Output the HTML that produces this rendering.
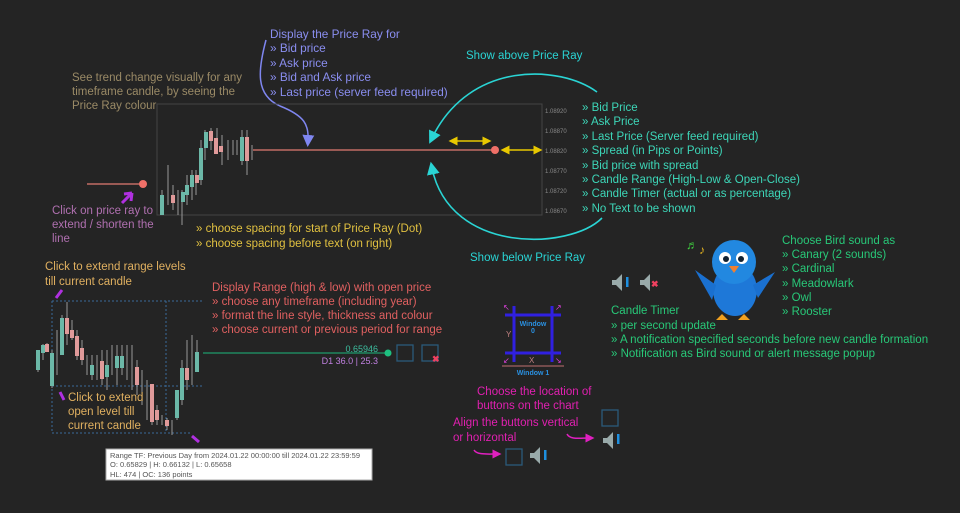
<!DOCTYPE html>
<html><head><meta charset="utf-8"><style>
html,body{margin:0;padding:0;background:#242424;}
svg{display:block;font-family:"Liberation Sans",sans-serif;}
</style></head><body>
<svg width="960" height="513" viewBox="0 0 960 513" xmlns="http://www.w3.org/2000/svg">
<rect width="960" height="513" fill="#242424"/>
<defs>
<marker id="ab" markerWidth="8" markerHeight="8" refX="4" refY="4" orient="auto"><path d="M0,0 L8,4 L0,8 z" fill="#7f86f0"/></marker>
<marker id="ac" markerWidth="8" markerHeight="8" refX="4" refY="4" orient="auto"><path d="M0,0 L8,4 L0,8 z" fill="#2ad4d4"/></marker>
<marker id="ay" markerWidth="6" markerHeight="6" refX="3" refY="3" orient="auto-start-reverse"><path d="M0,0 L6,3 L0,6 z" fill="#e8c800"/></marker>
<marker id="am" markerWidth="6" markerHeight="6" refX="3" refY="3" orient="auto"><path d="M0,0 L6,3 L0,6 z" fill="#e020c0"/></marker>
</defs>

<g fill="#8a8ef0" font-size="11.8">
<text x="270" y="38">Display the Price Ray for</text>
<text x="270" y="52">» Bid price</text>
<text x="270" y="67">» Ask price</text>
<text x="270" y="81">» Bid and Ask price</text>
<text x="270" y="96">» Last price (server feed required)</text>
</g>
<path d="M266,40 C258,70 255,95 280,106 C305,116 309,125 308,141" stroke="#7f86f0" stroke-width="1.5" fill="none" marker-end="url(#ab)"/>

<g fill="#9a8a66" font-size="11.5">
<text x="72" y="81">See trend change visually for any</text>
<text x="72" y="95">timeframe candle, by seeing the</text>
<text x="72" y="109">Price Ray colour</text>
</g>

<rect x="157" y="104" width="385" height="111" fill="none" stroke="#444" stroke-width="1"/>
<g fill="#888" font-size="6">
<text x="545" y="113">1.08920</text><text x="545" y="133">1.08870</text><text x="545" y="153">1.08820</text>
<text x="545" y="173">1.08770</text><text x="545" y="193">1.08720</text><text x="545" y="213">1.08670</text>
</g>
<g stroke-width="1">
<path d="M162,190 V215 M168,165 V205 M173,185 V210 M178,190 V215 M182,190 V225 M187,175 V205 M192,170 V200 M196,170 V195 M201,140 V185 M205,130 V160 M211,128 V150 M217,128 V150 M222,135 V165 M228,140 V160 M233,140 V155 M237,140 V155 M242,130 V165 M247,130 V175 M252,145 V160" stroke="#999"/>
<rect x="160" y="195" width="4" height="20" fill="#6cb8a8"/>
<rect x="171" y="195" width="4" height="8" fill="#e09a9a"/>
<rect x="181" y="192" width="4" height="10" fill="#6cb8a8"/>
<rect x="185" y="185" width="4" height="10" fill="#6cb8a8"/>
<rect x="190" y="175" width="4" height="12" fill="#6cb8a8"/>
<rect x="195" y="175" width="4" height="8" fill="#e09a9a"/>
<rect x="199" y="148" width="4" height="32" fill="#6cb8a8"/>
<rect x="204" y="132" width="4" height="16" fill="#6cb8a8"/>
<rect x="209" y="131" width="4" height="10" fill="#e09a9a"/>
<rect x="214" y="138" width="4" height="16" fill="#e09a9a"/>
<rect x="219" y="146" width="4" height="6" fill="#e09a9a"/>
<rect x="240" y="137" width="4" height="24" fill="#6cb8a8"/>
<rect x="245" y="137" width="4" height="24" fill="#e09a9a"/>
</g>
<line x1="253" y1="150" x2="495" y2="150" stroke="#e07a70" stroke-width="1.3"/>
<circle cx="495" cy="150" r="4" fill="#f07068"/>
<line x1="453" y1="141" x2="487" y2="141" stroke="#e8c800" stroke-width="1.5" marker-start="url(#ay)" marker-end="url(#ay)"/>
<line x1="505" y1="150" x2="538" y2="150" stroke="#e8c800" stroke-width="1.5" marker-start="url(#ay)" marker-end="url(#ay)"/>

<path d="M597,92 C560,65 470,60 432,138" stroke="#2ad4d4" stroke-width="1.6" fill="none" marker-end="url(#ac)"/>
<path d="M602,218 C570,250 450,255 432,168" stroke="#2ad4d4" stroke-width="1.6" fill="none" marker-end="url(#ac)"/>
<text x="466" y="59" fill="#2ad4d4" font-size="11.5">Show above Price Ray</text>
<text x="470" y="261" fill="#2ad4d4" font-size="11.5">Show below Price Ray</text>

<g fill="#3dd6b8" font-size="11.5">
<text x="582" y="111">» Bid Price</text>
<text x="582" y="125">» Ask Price</text>
<text x="582" y="140">» Last Price (Server feed required)</text>
<text x="582" y="154">» Spread (in Pips or Points)</text>
<text x="582" y="169">» Bid price with spread</text>
<text x="582" y="183">» Candle Range (High-Low &amp; Open-Close)</text>
<text x="582" y="197">» Candle Timer (actual or as percentage)</text>
<text x="582" y="212">» No Text to be shown</text>
</g>

<g fill="#e0c040" font-size="11.5">
<text x="196" y="232">» choose spacing for start of Price Ray (Dot)</text>
<text x="196" y="247">» choose spacing before text (on right)</text>
</g>
<line x1="87" y1="184" x2="141" y2="184" stroke="#e07a70" stroke-width="1.2"/>
<circle cx="143" cy="184" r="4" fill="#f07068"/>
<path d="M122,203 L132,193 M132,193 L124,194 M132,193 L131,201" stroke="#b030e0" stroke-width="3" fill="none"/>
<g fill="#b070b0" font-size="11.5">
<text x="52" y="214">Click on price ray to</text>
<text x="52" y="228">extend / shorten the</text>
<text x="52" y="242">line</text>
</g>

<g fill="#e0b060" font-size="11.5">
<text x="45" y="270">Click to extend range levels</text>
<text x="45" y="285">till current candle</text>
</g>
<path d="M62,290 L56,298" stroke="#b030e0" stroke-width="3"/>
<g stroke="#3a6a9a" stroke-dasharray="2,2" fill="none">
<line x1="52" y1="301" x2="202" y2="301"/>
<line x1="52" y1="386" x2="202" y2="386"/>
<line x1="52" y1="433" x2="192" y2="433"/>
<line x1="52" y1="301" x2="52" y2="433"/>
<line x1="166" y1="301" x2="166" y2="433"/>
</g>
<g stroke="#999">
<path d="M38,350 V372 M43,344 V360 M47,343 V352 M52,350 V388 M57,330 V375 M62,315 V355 M67,302 V345 M72,320 V340 M77,330 V360 M82,340 V365 M87,355 V375 M92,355 V380 M97,355 V380 M102,350 V385 M107,350 V390 M112,345 V375 M117,345 V385 M122,345 V375 M127,345 V380 M132,345 V390 M137,360 V395 M142,370 V405 M147,380 V420 M152,400 V425 M157,405 V425 M162,415 V425 M167,418 V430 M172,420 V435 M177,390 V420 M182,360 V405 M187,340 V390 M192,335 V385 M197,340 V360"/>
</g>
<g>
<rect x="36" y="350" width="4" height="20" fill="#6cb8a8"/>
<rect x="41" y="345" width="4" height="8" fill="#6cb8a8"/>
<rect x="45" y="344" width="4" height="8" fill="#e09a9a"/>
<rect x="50" y="353" width="4" height="33" fill="#6cb8a8"/>
<rect x="60" y="318" width="4" height="37" fill="#6cb8a8"/>
<rect x="65" y="318" width="4" height="16" fill="#e09a9a"/>
<rect x="70" y="330" width="4" height="8" fill="#e09a9a"/>
<rect x="75" y="336" width="4" height="20" fill="#e09a9a"/>
<rect x="80" y="348" width="4" height="12" fill="#e09a9a"/>
<rect x="90" y="365" width="4" height="10" fill="#6cb8a8"/>
<rect x="100" y="361" width="4" height="18" fill="#e09a9a"/>
<rect x="105" y="365" width="4" height="12" fill="#6cb8a8"/>
<rect x="115" y="356" width="4" height="12" fill="#6cb8a8"/>
<rect x="120" y="356" width="4" height="12" fill="#6cb8a8"/>
<rect x="135" y="367" width="4" height="18" fill="#e09a9a"/>
<rect x="150" y="384" width="4" height="38" fill="#e09a9a"/>
<rect x="155" y="410" width="4" height="10" fill="#e09a9a"/>
<rect x="165" y="420" width="4" height="6" fill="#e09a9a"/>
<rect x="175" y="390" width="4" height="28" fill="#6cb8a8"/>
<rect x="180" y="368" width="4" height="32" fill="#6cb8a8"/>
<rect x="185" y="368" width="4" height="12" fill="#e09a9a"/>
<rect x="195" y="352" width="4" height="20" fill="#6cb8a8"/>
</g>
<line x1="203" y1="353" x2="386" y2="353" stroke="#1e9a6a" stroke-width="1.3"/>
<circle cx="388" cy="353" r="3.5" fill="#1ec080"/>
<text x="378" y="352" fill="#3dbfa0" font-size="9" text-anchor="end">0.65946</text>
<text x="378" y="364" fill="#c080e0" font-size="9" text-anchor="end">D1  36.0 | 25.3</text>
<rect x="397" y="345" width="16" height="16" fill="none" stroke="#2a5a7a" stroke-width="1.3"/>
<rect x="422" y="345" width="16" height="16" fill="none" stroke="#2a5a7a" stroke-width="1.3"/>
<text x="432" y="362" fill="#f04060" font-size="9" font-weight="bold">✖</text>
<g fill="#e06060" font-size="11.5">
<text x="212" y="291">Display Range (high &amp; low) with open price</text>
<text x="212" y="305">» choose any timeframe (including year)</text>
<text x="212" y="319">» format the line style, thickness and colour</text>
<text x="212" y="333">» choose current or previous period for range</text>
</g>
<g fill="#e0b060" font-size="11.5">
<text x="68" y="401">Click to extend</text>
<text x="68" y="415">open level till</text>
<text x="68" y="429">current candle</text>
</g>
<path d="M60,392 L64,400" stroke="#b030e0" stroke-width="3"/>
<path d="M192,436 L199,442" stroke="#b030e0" stroke-width="3"/>
<rect x="106" y="449" width="266" height="31" fill="#fff" stroke="#aaa"/>
<g fill="#555" font-size="7.5">
<text x="110" y="458">Range TF: Previous Day from 2024.01.22 00:00:00 till 2024.01.22 23:59:59</text>
<text x="110" y="467">O: 0.65829 | H: 0.66132 | L: 0.65658</text>
<text x="110" y="477">HL: 474 | OC: 136 points</text>
</g>

<g fill="#9aa">
<path d="M612,280 h4 l6,-6 v17 l-6,-6 h-4z"/>
<rect x="626" y="277" width="2.5" height="10" fill="#1e90e0"/>
<path d="M640,280 h4 l6,-6 v17 l-6,-6 h-4z"/>
</g>
<text x="651" y="287" fill="#f04060" font-size="9" font-weight="bold">✖</text>

<g stroke="#3020e0" stroke-width="3" fill="none">
<rect x="514" y="315" width="38" height="38"/>
<line x1="505" y1="315" x2="561" y2="315"/><line x1="505" y1="353" x2="561" y2="353"/>
<line x1="514" y1="306" x2="514" y2="362"/><line x1="552" y1="306" x2="552" y2="362"/>
</g>
<line x1="502" y1="366" x2="564" y2="366" stroke="#a06060" stroke-width="1.2"/>
<g fill="#e040e0" font-size="8"><text x="503" y="310">↖</text><text x="555" y="310">↗</text><text x="503" y="363">↙</text><text x="555" y="363">↘</text></g>
<text x="533" y="326" fill="#2a90e0" font-size="7" font-weight="bold" text-anchor="middle">Window</text>
<text x="533" y="333" fill="#2a90e0" font-size="7" font-weight="bold" text-anchor="middle">0</text>
<text x="506" y="337" fill="#c08080" font-size="8">Y</text>
<text x="529" y="363" fill="#c08080" font-size="8">X</text>
<text x="533" y="375" fill="#2a90e0" font-size="7" font-weight="bold" text-anchor="middle">Window 1</text>

<text x="686" y="249" fill="#40d040" font-size="12">♬</text>
<text x="699" y="254" fill="#e0b020" font-size="12">♪</text>
<ellipse cx="735" cy="290" rx="22" ry="26" fill="#1e78d8"/>
<circle cx="734" cy="262" r="22" fill="#2288e0"/>
<path d="M716,285 L695,270 L712,300z M753,285 L775,272 L758,298z" fill="#1a70d0"/>
<circle cx="725" cy="258" r="6" fill="#fff"/><circle cx="742" cy="258" r="6" fill="#fff"/>
<circle cx="726" cy="259" r="3" fill="#123"/><circle cx="741" cy="259" r="3" fill="#123"/>
<path d="M729,266 L739,266 L734,273z" fill="#f08030"/>
<path d="M722,314 l-6,6 h12z M744,314 l6,6 h-12z" fill="#f0a020"/>

<g fill="#28c878" font-size="11.5">
<text x="782" y="244">Choose Bird sound as</text>
<text x="782" y="258">» Canary (2 sounds)</text>
<text x="782" y="272">» Cardinal</text>
<text x="782" y="287">» Meadowlark</text>
<text x="782" y="301">» Owl</text>
<text x="782" y="315">» Rooster</text>
<text x="611" y="314">Candle Timer</text>
<text x="611" y="329">» per second update</text>
<text x="611" y="343">» A notification specified seconds before new candle formation</text>
<text x="611" y="357">» Notification as Bird sound or alert message popup</text>
</g>

<g fill="#e020b0" font-size="11.5">
<text x="477" y="395">Choose the location of</text>
<text x="477" y="409">buttons on the chart</text>
<text x="453" y="426">Align the buttons vertical</text>
<text x="453" y="441">or horizontal</text>
</g>
<rect x="602" y="410" width="16" height="16" fill="none" stroke="#2a5a7a" stroke-width="1.3"/>
<g fill="#9aa">
<path d="M603,438 h4 l6,-6 v17 l-6,-6 h-4z"/>
<path d="M530,453 h4 l6,-6 v17 l-6,-6 h-4z"/>
</g>
<rect x="617" y="434" width="2.5" height="10" fill="#1e90e0"/>
<rect x="544" y="450" width="2.5" height="10" fill="#1e90e0"/>
<rect x="506" y="449" width="16" height="16" fill="none" stroke="#2a5a7a" stroke-width="1.3"/>
<path d="M567,434 C570,440 580,438 590,438" stroke="#e020c0" stroke-width="1.5" fill="none" marker-end="url(#am)"/>
<path d="M474,450 C477,455 487,454 497,454" stroke="#e020c0" stroke-width="1.5" fill="none" marker-end="url(#am)"/>
</svg>
</body></html>
